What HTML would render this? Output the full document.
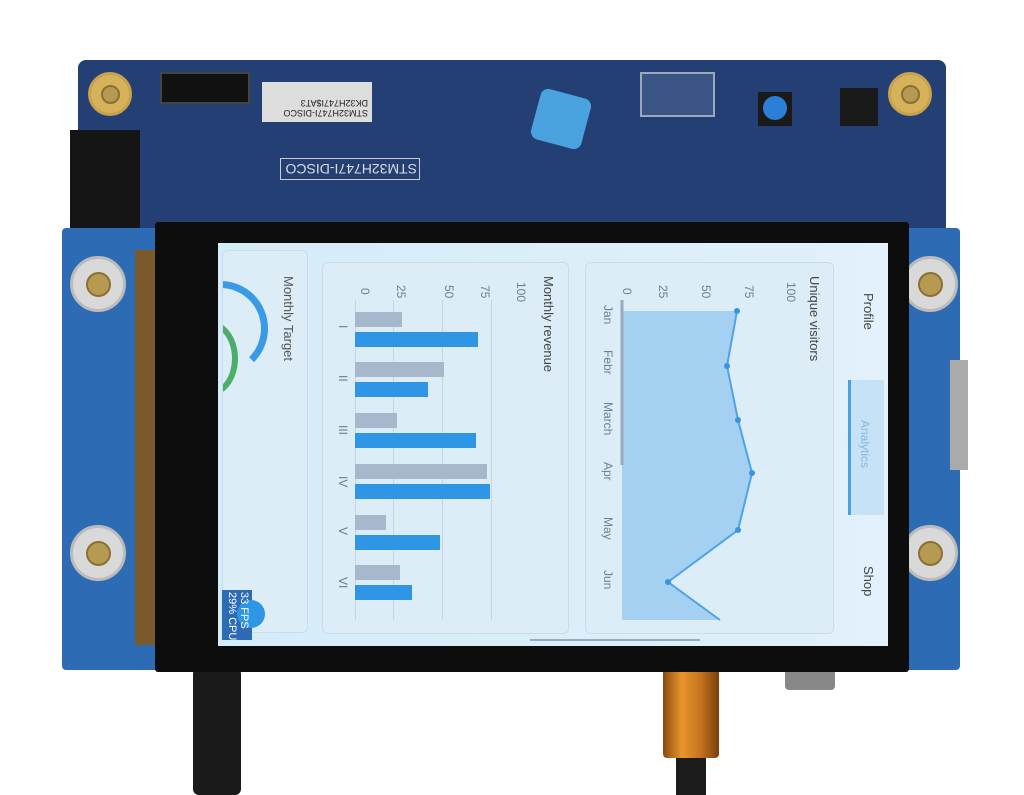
<!DOCTYPE html>
<html><head><meta charset="utf-8"><style>
body{margin:0;width:1024px;height:795px;background:#fff;position:relative;overflow:hidden;font-family:"Liberation Sans",sans-serif}
div{position:absolute;box-sizing:border-box}
.rot{transform-origin:0 0;transform:rotate(90deg);white-space:nowrap}
.screw{border-radius:50%;background:#d9d9d9;border:3px solid #bbb}
.screw::after{content:"";position:absolute;left:25%;top:25%;width:50%;height:50%;border-radius:50%;background:#b79a52;border:2px solid #8a7133;box-sizing:border-box}
.gb{background:#a8b8cc;height:15px;left:355px}
.bb{background:#2f96e6;height:15px;left:355px}
.lbl{color:#6a7f92;font-size:12px}
</style></head><body>
<!-- cables -->
<div style="left:193px;top:668px;width:48px;height:127px;background:#1a1a1a;border-radius:6px"></div>
<div style="left:676px;top:740px;width:30px;height:55px;background:#1c1c1c"></div>
<div style="left:663px;top:668px;width:56px;height:90px;background:linear-gradient(90deg,#8a4a10,#e8962a,#c87420,#7a3e0c);border-radius:4px"></div>
<div style="left:785px;top:668px;width:50px;height:22px;background:#888;border-radius:4px"></div>
<!-- top PCB -->
<div style="left:78px;top:60px;width:868px;height:175px;background:#233f74;border-radius:8px"></div>
<div style="left:70px;top:130px;width:70px;height:100px;background:#151515"></div>
<div style="left:160px;top:72px;width:90px;height:32px;background:#111;border:2px solid #444"></div>
<div style="left:262px;top:82px;width:110px;height:40px;background:#ddd;font-size:9px;color:#222;padding:4px;transform:rotate(180deg)">STM32H747I-DISCO<br>DK32H747I$AT3</div>
<div style="left:280px;top:158px;width:140px;height:22px;border:1px solid #ccc;color:#ddd;font-size:14px;padding:2px;transform:rotate(180deg)">STM32H747I-DISCO</div>
<div style="left:640px;top:72px;width:75px;height:45px;background:#3a5585;border:2px solid #9ab"></div>
<div style="left:535px;top:93px;width:52px;height:52px;background:#4aa3de;border-radius:8px;transform:rotate(15deg)"></div>
<div style="left:758px;top:92px;width:34px;height:34px;background:#1a1a1a"></div>
<div style="left:763px;top:96px;width:24px;height:24px;background:#2a7fd8;border-radius:50%"></div>
<div style="left:840px;top:88px;width:38px;height:38px;background:#1a1a1a"></div>
<div class="screw" style="left:88px;top:72px;width:44px;height:44px;background:#d6b35a;border-color:#c8a24a"></div>
<div class="screw" style="left:888px;top:72px;width:44px;height:44px;background:#d6b35a;border-color:#c8a24a"></div>
<!-- lower blue board -->
<div style="left:62px;top:228px;width:898px;height:442px;background:#2d6cb5;border-radius:4px"></div>
<div style="left:950px;top:360px;width:18px;height:110px;background:#aaa"></div>
<div style="left:135px;top:250px;width:25px;height:395px;background:#7a5a2a"></div>
<div class="screw" style="left:70px;top:256px;width:56px;height:56px"></div>
<div class="screw" style="left:70px;top:525px;width:56px;height:56px"></div>
<div class="screw" style="left:902px;top:256px;width:56px;height:56px"></div>
<div class="screw" style="left:902px;top:525px;width:56px;height:56px"></div>
<!-- bezel -->
<div style="left:155px;top:222px;width:754px;height:450px;background:#0d0d0d;border-radius:3px"></div>
<!-- screen -->
<div style="left:218px;top:243px;width:670px;height:403px;background:linear-gradient(90deg,#d4ebf8,#e2f1fb);overflow:hidden">
</div>
<!-- panels -->
<div style="left:222px;top:250px;width:86px;height:383px;background:#dcedf8;border-radius:6px;border:1px solid #c8dcea;overflow:hidden">
 <div style="left:-50px;top:30px;width:95px;height:95px;border-radius:50%;border:7px solid #3a9ae6;border-left-color:transparent;border-bottom-color:transparent"></div>
 <div style="left:-40px;top:70px;width:55px;height:75px;border-radius:50%;border:6px solid #4cae6a;border-left-color:transparent"></div>
</div>
<div class="rot lbl" style="left:296px;top:276px;font-size:13px;color:#555">Monthly Target</div>
<div style="left:322px;top:262px;width:247px;height:372px;background:#dcedf8;border-radius:6px;border:1px solid #c8dcea"></div>
<div class="rot" style="left:556px;top:276px;font-size:13px;color:#444">Monthly revenue</div>
<div style="left:355px;top:300px;width:1px;height:320px;background:#c4d6e4"></div>
<div style="left:393px;top:300px;width:1px;height:320px;background:#c4d6e4"></div>
<div style="left:442px;top:300px;width:1px;height:320px;background:#c4d6e4"></div>
<div style="left:491px;top:300px;width:1px;height:320px;background:#c4d6e4"></div>
<div class="rot lbl" style="left:372px;top:288px">0</div>
<div class="rot lbl" style="left:408px;top:285px">25</div>
<div class="rot lbl" style="left:456px;top:285px">50</div>
<div class="rot lbl" style="left:492px;top:285px">75</div>
<div class="rot lbl" style="left:528px;top:282px">100</div>
<div class="gb" style="top:312px;width:47px"></div><div class="bb" style="top:332px;width:123px"></div>
<div class="gb" style="top:362px;width:89px"></div><div class="bb" style="top:382px;width:73px"></div>
<div class="gb" style="top:413px;width:42px"></div><div class="bb" style="top:433px;width:121px"></div>
<div class="gb" style="top:464px;width:132px"></div><div class="bb" style="top:484px;width:135px"></div>
<div class="gb" style="top:515px;width:31px"></div><div class="bb" style="top:535px;width:85px"></div>
<div class="gb" style="top:565px;width:45px"></div><div class="bb" style="top:585px;width:57px"></div>
<div class="rot lbl" style="left:350px;top:325px">I</div>
<div class="rot lbl" style="left:350px;top:375px">II</div>
<div class="rot lbl" style="left:350px;top:425px">III</div>
<div class="rot lbl" style="left:350px;top:476px">IV</div>
<div class="rot lbl" style="left:350px;top:527px">V</div>
<div class="rot lbl" style="left:350px;top:577px">VI</div>
<div style="left:585px;top:262px;width:249px;height:372px;background:#dcedf8;border-radius:6px;border:1px solid #c8dcea"></div>
<div class="rot" style="left:822px;top:276px;font-size:13px;color:#444">Unique visitors</div>
<div class="rot lbl" style="left:634px;top:288px">0</div>
<div class="rot lbl" style="left:670px;top:285px">25</div>
<div class="rot lbl" style="left:713px;top:285px">50</div>
<div class="rot lbl" style="left:756px;top:285px">75</div>
<div class="rot lbl" style="left:798px;top:282px">100</div>
<div class="rot lbl" style="left:615px;top:305px">Jan</div>
<div class="rot lbl" style="left:615px;top:350px">Febr</div>
<div class="rot lbl" style="left:615px;top:402px">March</div>
<div class="rot lbl" style="left:615px;top:462px">Apr</div>
<div class="rot lbl" style="left:615px;top:517px">May</div>
<div class="rot lbl" style="left:615px;top:570px">Jun</div>
<svg style="position:absolute;left:0;top:0" width="1024" height="795">
<polygon points="622,311 737,311 727,366 738,420 752,473 738,530 668,582 720,620 622,620" fill="#8cc4ee" opacity="0.7"/>
<polyline points="737,311 727,366 738,420 752,473 738,530 668,582 720,620" fill="none" stroke="#4fa3e6" stroke-width="2"/>
<g fill="#3a94e0"><circle cx="737" cy="311" r="3"/><circle cx="727" cy="366" r="3"/><circle cx="738" cy="420" r="3"/><circle cx="752" cy="473" r="3"/><circle cx="738" cy="530" r="3"/><circle cx="668" cy="582" r="3"/></g>
<line x1="622" y1="300" x2="622" y2="465" stroke="#99aabb" stroke-width="3"/>
<line x1="530" y1="640" x2="700" y2="640" stroke="#99aabb" stroke-width="2"/>
</svg>
<!-- tabs -->
<div style="left:848px;top:380px;width:36px;height:135px;background:#c6e2f6;border-left:3px solid #4aa0e0"></div>
<div class="rot" style="left:876px;top:293px;font-size:13px;color:#444">Profile</div>
<div class="rot" style="left:872px;top:420px;font-size:12px;color:#8ab8dc">Analytics</div>
<div class="rot" style="left:876px;top:566px;font-size:13px;color:#444">Shop</div>
<!-- fps -->
<div style="left:222px;top:590px;width:30px;height:50px;background:#2d6cb5"></div>
<div style="left:237px;top:600px;width:28px;height:28px;border-radius:50%;background:#2f96e6"></div>
<div class="rot" style="left:250px;top:592px;font-size:11px;color:#fff;line-height:12px">33 FPS<br>29% CPU</div>
</body></html>
